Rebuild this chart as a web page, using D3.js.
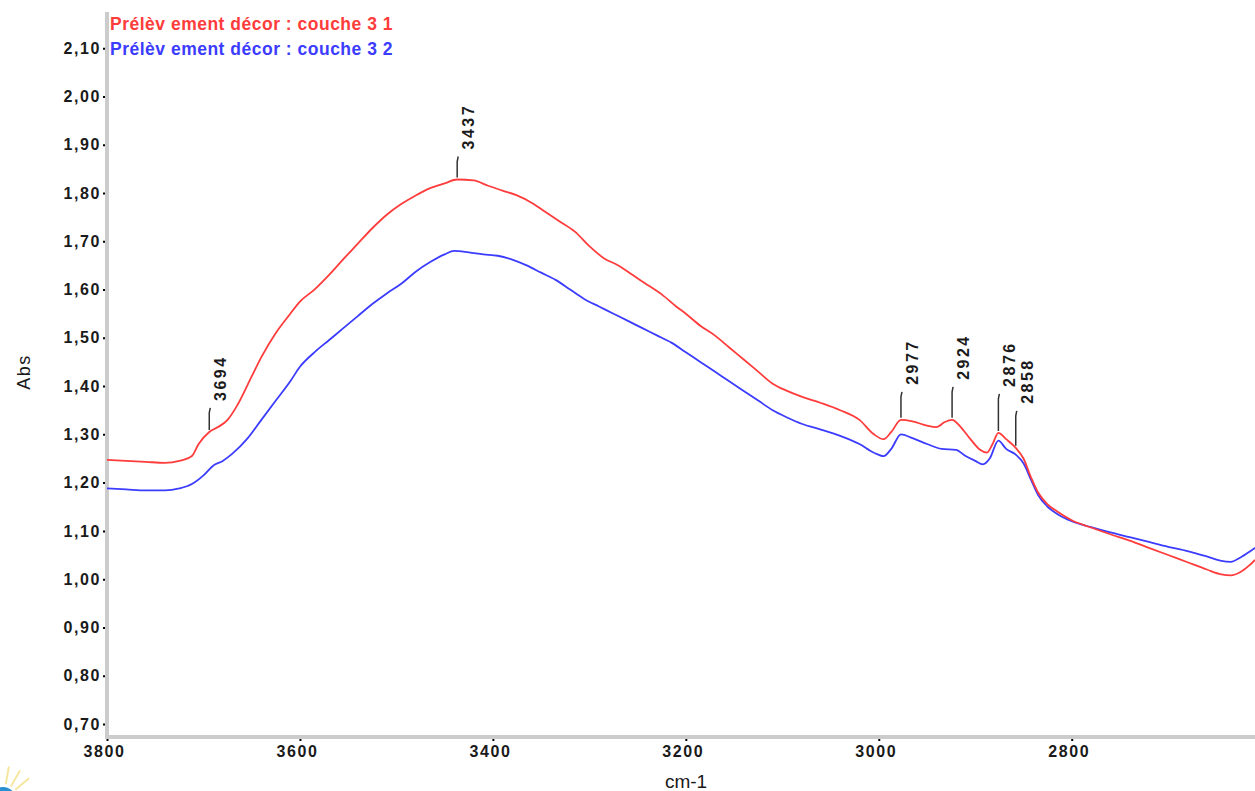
<!DOCTYPE html>
<html>
<head>
<meta charset="utf-8">
<script src="https://cdn.jsdelivr.net/npm/d3@7"></script>
<style>
  body { margin: 0; background: #fff; }
  svg { display: block; }
  text { font-family: "Liberation Sans", Arial, sans-serif; }
</style>
</head>
<body>
<svg width="1255" height="791"></svg>
<script>
const svg = d3.select("svg");

// spectrum 1 (couche 3 1)
const wnRed = [3800,3780,3760,3740,3725,3712,3705,3694,3685,3675,3665,3650,3640,3625,3610,3600,3585,3570,3555,3540,3525,3510,3495,3480,3465,3450,3437,3420,3405,3390,3375,3360,3345,3330,3315,3300,3285,3270,3255,3240,3225,3210,3200,3185,3170,3155,3140,3125,3110,3095,3080,3060,3040,3020,3005,2995,2987,2977,2965,2950,2940,2932,2924,2915,2905,2895,2888,2882,2876,2868,2858,2850,2842,2835,2825,2815,2800,2780,2760,2740,2720,2700,2680,2660,2645,2635,2625,2615,2610];
const absRed = [1.247,1.245,1.243,1.241,1.245,1.255,1.28,1.305,1.315,1.33,1.36,1.42,1.46,1.51,1.55,1.575,1.60,1.63,1.663,1.695,1.727,1.755,1.777,1.795,1.81,1.82,1.828,1.826,1.815,1.805,1.795,1.78,1.76,1.74,1.72,1.69,1.665,1.65,1.63,1.61,1.59,1.565,1.55,1.525,1.505,1.48,1.455,1.43,1.405,1.39,1.378,1.365,1.35,1.33,1.30,1.29,1.305,1.33,1.327,1.318,1.315,1.325,1.33,1.315,1.29,1.268,1.262,1.28,1.303,1.29,1.272,1.25,1.21,1.18,1.155,1.14,1.122,1.107,1.093,1.08,1.065,1.05,1.035,1.02,1.01,1.008,1.015,1.03,1.04];

// spectrum 2 (couche 3 2)
const wnBlue = [3800,3780,3760,3740,3725,3712,3700,3690,3680,3670,3655,3640,3625,3610,3600,3585,3570,3555,3540,3525,3510,3495,3480,3465,3450,3440,3425,3410,3395,3380,3365,3350,3335,3320,3305,3290,3275,3260,3245,3230,3215,3200,3185,3170,3155,3140,3125,3110,3095,3080,3060,3040,3020,3005,2995,2987,2977,2965,2950,2935,2920,2910,2900,2892,2885,2876,2868,2858,2850,2842,2835,2825,2815,2800,2780,2760,2740,2720,2700,2680,2660,2645,2635,2625,2615,2610];
const absBlue = [1.188,1.186,1.184,1.184,1.188,1.197,1.215,1.235,1.245,1.26,1.29,1.33,1.37,1.41,1.44,1.47,1.495,1.52,1.545,1.57,1.592,1.612,1.637,1.657,1.673,1.68,1.677,1.673,1.67,1.662,1.65,1.635,1.62,1.60,1.58,1.565,1.55,1.535,1.52,1.505,1.49,1.47,1.45,1.43,1.41,1.39,1.37,1.35,1.335,1.322,1.31,1.297,1.28,1.262,1.255,1.27,1.30,1.292,1.28,1.27,1.268,1.255,1.245,1.238,1.25,1.287,1.27,1.258,1.24,1.205,1.175,1.15,1.135,1.12,1.108,1.097,1.087,1.077,1.067,1.058,1.047,1.038,1.036,1.045,1.058,1.065];

const seriesNames = ["Prélèv ement décor : couche 3 1", "Prélèv ement décor : couche 3 2"];
const seriesColors = ["#ff3c3c", "#3c3cff"];

const peaks = [3694, 3437, 2977, 2924, 2876, 2858];
const yTicks = [0.70,0.80,0.90,1.00,1.10,1.20,1.30,1.40,1.50,1.60,1.70,1.80,1.90,2.00,2.10];
const xTicks = [3800, 3600, 3400, 3200, 3000, 2800];

const plotL = 107, plotR = 1255, plotT = 12, plotB = 737;

const x = d3.scaleLinear().domain([3800, 2610]).range([plotL, plotR]);
const y = d3.scaleLinear().domain([0.673, 2.175]).range([plotB, plotT]);

const fmt = v => d3.format(".2f")(v).replace(".", ",");

// axis lines (grey, thick)
svg.append("line")
  .attr("x1", plotL).attr("x2", plotL).attr("y1", plotT).attr("y2", plotB + 2)
  .attr("stroke", "#cccccc").attr("stroke-width", 4);
svg.append("line")
  .attr("x1", plotL - 2).attr("x2", plotR).attr("y1", plotB).attr("y2", plotB)
  .attr("stroke", "#cccccc").attr("stroke-width", 4);

const yAxis = svg.append("g")
  .attr("transform", `translate(${plotL - 2},0)`)
  .call(d3.axisLeft(y).tickValues(yTicks).tickFormat(fmt).tickSize(2).tickPadding(2));
const xAxis = svg.append("g")
  .attr("transform", `translate(0,${plotB + 2})`)
  .call(d3.axisBottom(x).tickValues(xTicks).tickFormat(d3.format("d")).tickSize(2).tickPadding(5));

[yAxis, xAxis].forEach(a => {
  a.select(".domain").remove();
  a.selectAll(".tick line").attr("stroke", "#000").attr("stroke-width", 2);
  a.selectAll(".tick text")
    .attr("fill", "#1a1a1a")
    .style("font-size", "16px")
    .style("font-weight", "bold")
    .style("letter-spacing", "1.6px");
});
xAxis.selectAll(".tick text").attr("dx", "-3");

// axis titles
svg.append("text")
  .attr("transform", `translate(30,372) rotate(-90)`)
  .attr("text-anchor", "middle")
  .style("font-size", "18px")
  .style("letter-spacing", "1.5px")
  .attr("fill", "#1a1a1a")
  .text("Abs");
svg.append("text")
  .attr("x", 686).attr("y", 788)
  .attr("text-anchor", "middle")
  .style("font-size", "19px")
  .attr("fill", "#1a1a1a")
  .text("cm-1");

// spectra
const line = d3.line().x(d => x(d[0])).y(d => y(d[1])).curve(d3.curveMonotoneX);
const redPts = d3.zip(wnRed, absRed);
const bluePts = d3.zip(wnBlue, absBlue);

svg.append("path").datum(bluePts)
  .attr("d", line).attr("fill", "none")
  .attr("stroke", seriesColors[1]).attr("stroke-width", 1.8);
svg.append("path").datum(redPts)
  .attr("d", line).attr("fill", "none")
  .attr("stroke", seriesColors[0]).attr("stroke-width", 1.8);

// peak labels on spectrum 1
const leaderLen = {3694: 22, 3437: 21, 2977: 26, 2924: 31, 2876: 37, 2858: 35};
const redAt = wn => absRed[wnRed.indexOf(wn)];
peaks.forEach(p => {
  const px = x(p), py = y(redAt(p)) - 2;
  const len = leaderLen[p];
  svg.append("path")
    .attr("d", `M${px},${py} L${px},${py - len + 5} L${px + 1},${py - len}`)
    .attr("fill", "none").attr("stroke", "#333").attr("stroke-width", 1.5);
  svg.append("text")
    .attr("transform", `translate(${px + 17},${py - len - 7}) rotate(-90)`)
    .attr("fill", "#1a1a1a")
    .style("font-size", "16px")
    .style("font-weight", "bold")
    .style("letter-spacing", "2.5px")
    .text(p);
});

// legend
seriesNames.forEach((n, i) => {
  svg.append("text")
    .attr("x", 110).attr("y", 30 + i * 25)
    .attr("fill", seriesColors[i])
    .style("font-size", "17.5px")
    .style("font-weight", "bold")
    .style("letter-spacing", "0.5px")
    .text(n);
});

// corner logo fragment
const logo = svg.append("g").attr("transform", "translate(3,800)");
[-80, -60, -40].forEach(a => {
  const r = a * Math.PI / 180;
  logo.append("line")
    .attr("x1", 16 * Math.cos(r)).attr("y1", 16 * Math.sin(r))
    .attr("x2", 34 * Math.cos(r)).attr("y2", 34 * Math.sin(r))
    .attr("stroke", "#f5e6a0").attr("stroke-width", 2);
});
logo.append("circle").attr("r", 13).attr("fill", "#2a8fd0");
</script>
</body>
</html>
